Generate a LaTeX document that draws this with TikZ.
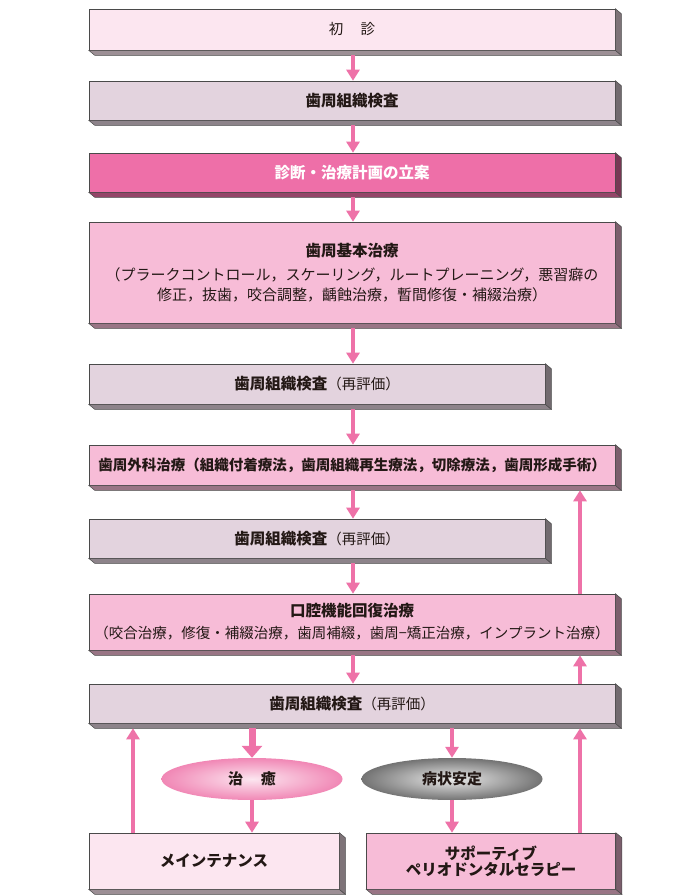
\documentclass[tikz,border=0pt]{standalone}
\usepackage{fontspec}
\setmainfont{Noto Sans CJK JP}
\usetikzlibrary{arrows.meta,shapes.geometric}
\definecolor{pkLight}{HTML}{FCE6F0}
\definecolor{pkGray}{HTML}{E3D3DE}
\definecolor{pkHot}{HTML}{EE6FA8}
\definecolor{pkMid}{HTML}{F7BCD7}
\definecolor{arrPink}{HTML}{EE72A8}
\definecolor{edgeGray}{HTML}{4A4A4A}
\definecolor{txt}{HTML}{231815}
\newcommand\boxfaces[2]{%
  \filldraw[draw=edgeGray, line width=0.5pt, fill=#2!62!black]
    (#1.south west) -- (#1.south east) -- ([shift={(6,5)}]#1.south east) -- ([shift={(6,5)}]#1.south west) -- cycle;
  \filldraw[draw=edgeGray, line width=0.5pt, fill=#2!50!black]
    (#1.north east) -- ([shift={(6,5)}]#1.north east) -- ([shift={(6,5)}]#1.south east) -- (#1.south east) -- cycle;
}
\newcommand\ttl[1]{{\fontsize{15.5}{20}\selectfont\bfseries #1}}
\begin{document}
\begin{tikzpicture}[x=1pt, y=-1pt,
  stage/.style={draw=edgeGray, line width=0.6pt, inner sep=0pt, align=center, text=txt,
    font=\fontsize{14.5}{20}\selectfont},
  wide/.style={minimum width=526pt},
  narrow/.style={minimum width=456pt},
  arr/.style={draw=arrPink, line width=4pt, -{Triangle[width=13pt,length=11pt]}},
  thickarr/.style={draw=arrPink, line width=7pt, -{Triangle[width=20pt,length=12pt]}},
  oval/.style={ellipse, minimum width=181pt, minimum height=42pt, inner sep=0pt, text=txt,
    font=\fontsize{15}{18}\selectfont\bfseries}
]
\useasboundingbox (0,0) rectangle (683,896);
\fill[white] (0,0) rectangle (683,896);

\coordinate (cx) at (353,0);
\coordinate (rx) at (580,0);
\coordinate (lx) at (133,0);

\node[stage, wide, fill=pkLight, minimum height=41pt] (b1) at (352,29.5) {初\hspace{1.2em}診};
\boxfaces{b1}{pkLight}
\node[stage, wide, fill=pkGray, minimum height=39pt] (b2) at (352,100.5) {\ttl{歯周組織検査}};
\boxfaces{b2}{pkGray}
\node[stage, wide, fill=pkHot, minimum height=39pt, text=white] (b3) at (352,172.5) {\ttl{診断・治療計画の立案}};
\boxfaces{b3}{pkHot}
\node[stage, wide, fill=pkMid, minimum height=101pt, font=\fontsize{15}{20}\selectfont] (b4) at (352,272.5)
  {\ttl{歯周基本治療}\\[4pt]（プラークコントロール，スケーリング，ルートプレーニング，悪習癖の\\修正，抜歯，咬合調整，齲蝕治療，暫間修復・補綴治療）};
\boxfaces{b4}{pkMid}
\node[stage, narrow, fill=pkGray, minimum height=40pt] (b5) at (317,384) {\ttl{歯周組織検査}（再評価）};
\boxfaces{b5}{pkGray}
\node[stage, wide, fill=pkMid, minimum height=40pt] (b6) at (352,465)
  {\bfseries 歯周外科治療（組織付着療法，歯周組織再生療法，切除療法，歯周形成手術）};
\boxfaces{b6}{pkMid}
\node[stage, narrow, fill=pkGray, minimum height=39pt] (b7) at (317,538.5) {\ttl{歯周組織検査}（再評価）};
\boxfaces{b7}{pkGray}
\node[stage, wide, fill=pkMid, minimum height=56pt] (b8) at (352,622)
  {\ttl{口腔機能回復治療}\\[2pt]（咬合治療，修復・補綴治療，歯周補綴，歯周−矯正治療，インプラント治療）};
\boxfaces{b8}{pkMid}
\node[stage, wide, fill=pkGray, minimum height=39pt] (b9) at (352,703.5) {\ttl{歯周組織検査}（再評価）};
\boxfaces{b9}{pkGray}

\node[oval, shade, inner color=pkLight, outer color=arrPink!85] (e1) at (252,779) {治\hspace{1.2em}癒};
\node[oval, shade, inner color=white!92!black, outer color=black!55] (e2) at (452,779) {病状安定};

\node[stage, fill=pkLight, minimum width=250pt, minimum height=56pt] (m) at (214,861) {\ttl{メインテナンス}};
\boxfaces{m}{pkLight}
\node[stage, fill=pkMid, minimum width=249pt, minimum height=56pt, font=\fontsize{15.5}{16}\selectfont\bfseries] (s) at (491,861)
  {サポーティブ\\ペリオドンタルセラピー};
\boxfaces{s}{pkMid}

% main flow
\draw[arr, shorten <=5pt] (b1.south -| cx) -- (b2.north -| cx);
\draw[arr, shorten <=5pt] (b2.south -| cx) -- (b3.north -| cx);
\draw[arr, shorten <=5pt] (b3.south -| cx) -- (b4.north -| cx);
\draw[arr, shorten <=5pt] (b4.south -| cx) -- (b5.north -| cx);
\draw[arr, shorten <=5pt] (b5.south -| cx) -- (b6.north -| cx);
\draw[arr, shorten <=5pt] (b6.south -| cx) -- (b7.north -| cx);
\draw[arr, shorten <=5pt] (b7.south -| cx) -- (b8.north -| cx);
\draw[arr, shorten <=5pt] (b8.south -| cx) -- (b9.north -| cx);
% feedback
\draw[arr, shorten >=5pt] (b8.north -| rx) -- (b6.south -| rx);
\draw[arr, shorten >=5pt] (b9.north -| rx) -- (b8.south -| rx);
\draw[arr, shorten >=5pt] (m.north -| lx) -- (b9.south -| lx);
\draw[arr, shorten >=5pt] (s.north -| rx) -- (b9.south -| rx);
% outcomes
\draw[thickarr, shorten <=5pt] (b9.south -| e1) -- (e1.north);
\draw[arr, shorten <=5pt] (b9.south -| e2) -- (e2.north);
\draw[arr] (e1.south) -- (m.north -| e1);
\draw[arr] (e2.south) -- (s.north -| e2);
\end{tikzpicture}
\end{document}
